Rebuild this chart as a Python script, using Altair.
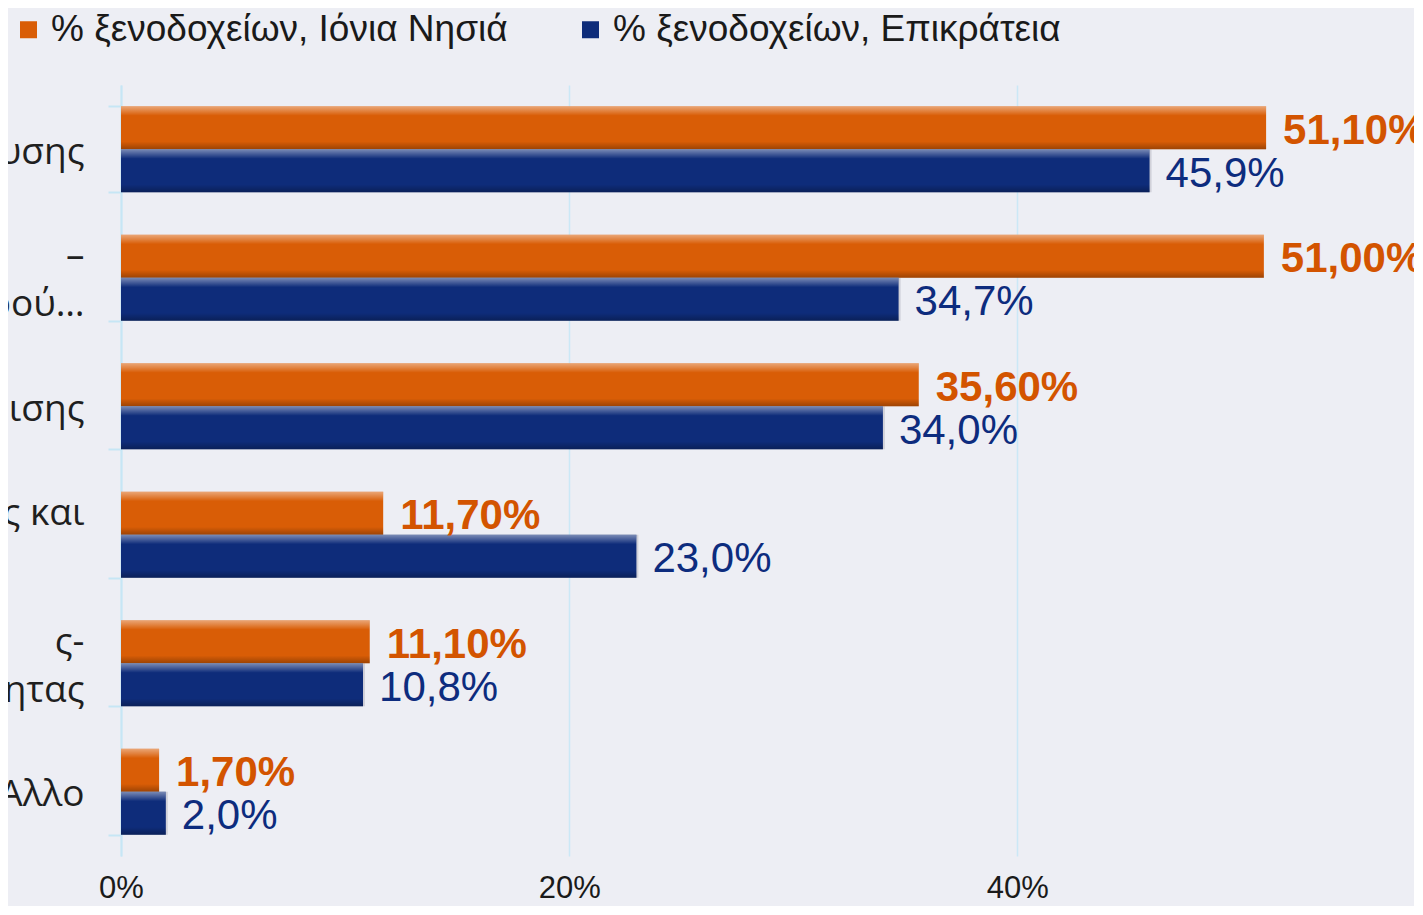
import altair as alt
import pandas as pd

BL = "\u2800"  # blank glyph used as an empty spacer line

# ---- data ----
# "|" marks a line break in a category label (blank spacer lines keep the vertical placement)
categories = [
    BL + "|υσης",
    "–|" + BL + "|ερού…",
    BL + "|ισης",
    "ς και",
    "ς-|" + BL + "|ητας",
    BL + "|Άλλο",
]
series_names = ["% ξενοδοχείων, Ιόνια Νησιά", "% ξενοδοχείων, Επικράτεια"]
ionian = [51.1, 51.0, 35.6, 11.7, 11.1, 1.7]
mainland = [45.9, 34.7, 34.0, 23.0, 10.8, 2.0]
x_ticks = [0, 20, 40]

ORANGE = "#D95D06"
BLUE = "#0E2C7A"
ORANGE_TXT = "#D35400"
BLUE_TXT = "#0D2C7E"
BG = "#EDEEF4"
GRIDC = "#CBE8F6"

rows = []
for c, v in zip(categories, ionian):
    rows.append({"cat": c, "series": series_names[0], "value": v,
                 "label": f"{v:.2f}".replace(".", ",") + "%"})
for c, v in zip(categories, mainland):
    rows.append({"cat": c, "series": series_names[1], "value": v,
                 "label": f"{v:.1f}".replace(".", ",") + "%"})
df = pd.DataFrame(rows)

xscale = alt.Scale(domain=[0, 57.7], nice=False, zero=True)
yscale = alt.Scale(paddingInner=0.33, paddingOuter=0.165)

x_enc = alt.X("value:Q", scale=xscale,
              axis=alt.Axis(values=x_ticks, labelExpr="datum.value + '%'", grid=True,
                            gridColor=GRIDC, gridWidth=1.5, domain=False, ticks=False,
                            labelFlush=False, labelFont="Liberation Sans",
                            labelFontSize=31, labelColor="#1a1a1a", labelPadding=17,
                            title=None))
y_enc = alt.Y("cat:N", sort=categories, scale=yscale,
              axis=alt.Axis(title=None, domainColor="#C6E6F5", domainWidth=2,
                            tickBand="extent", tickColor="#C6E6F5", tickSize=13, tickWidth=2,
                            labelFont="Open Sans, DejaVu Sans", labelFontSize=37,
                            labelColor="#1f1f1f",
                            labelPadding=24, labelOffset=-21,
                            labelExpr="split(datum.label, '|')",
                            labelLineHeight=24, labelLimit=0, grid=False))
yoff = alt.YOffset("series:N", sort=series_names, scale=alt.Scale(paddingInner=0, paddingOuter=0))

shadow = alt.Chart().transform_filter(alt.datum.series == series_names[1]).mark_bar(
    color="rgba(60,60,80,0.16)", xOffset=2, yOffset=4
)

bars = alt.Chart().mark_bar().encode(
    color=alt.Color("series:N", sort=series_names,
                    scale=alt.Scale(domain=series_names, range=[ORANGE, BLUE]),
                    legend=alt.Legend(orient="none", legendX=-111, legendY=-74,
                                      direction="horizontal", title=None,
                                      symbolType="square", symbolSize=289,
                                      symbolStrokeWidth=0,
                                      labelFont="Liberation Sans", labelFontSize=37,
                                      labelColor="#1a1a1a", labelLimit=0,
                                      columnPadding=64, labelOffset=4))
)

gloss = alt.LinearGradient(
    gradient="linear", x1=0, y1=0, x2=0, y2=1,
    stops=[
        alt.GradientStop(color="rgba(255,255,255,0.45)", offset=0),
        alt.GradientStop(color="rgba(255,255,255,0.25)", offset=0.1),
        alt.GradientStop(color="rgba(255,255,255,0.0)", offset=0.22),
        alt.GradientStop(color="rgba(0,0,0,0.0)", offset=0.82),
        alt.GradientStop(color="rgba(0,0,0,0.28)", offset=1),
    ],
)
overlay = alt.Chart().mark_bar(fill=gloss)

txt_or = alt.Chart().transform_filter(alt.datum.series == series_names[0]).mark_text(
    align="left", baseline="middle", dx=17, dy=3, font="Liberation Sans",
    fontSize=42, fontWeight="bold", color=ORANGE_TXT
).encode(text="label:N")

txt_bl = alt.Chart().transform_filter(alt.datum.series == series_names[1]).mark_text(
    align="left", baseline="middle", dx=16, dy=3, font="Liberation Sans",
    fontSize=42, color=BLUE_TXT
).encode(text="label:N")

chart = alt.layer(shadow, bars, overlay, txt_or, txt_bl, data=df).encode(
    x=x_enc, y=y_enc, yOffset=yoff
).properties(
    width=1293, height=771,
    autosize=alt.AutoSizeParams(type="none"),
    padding={"left": 113, "top": 77, "right": 0, "bottom": 50},
    background=BG,
).configure_view(stroke=None)

chart.save("out.html", embed_options={"renderer": "svg", "actions": False})
